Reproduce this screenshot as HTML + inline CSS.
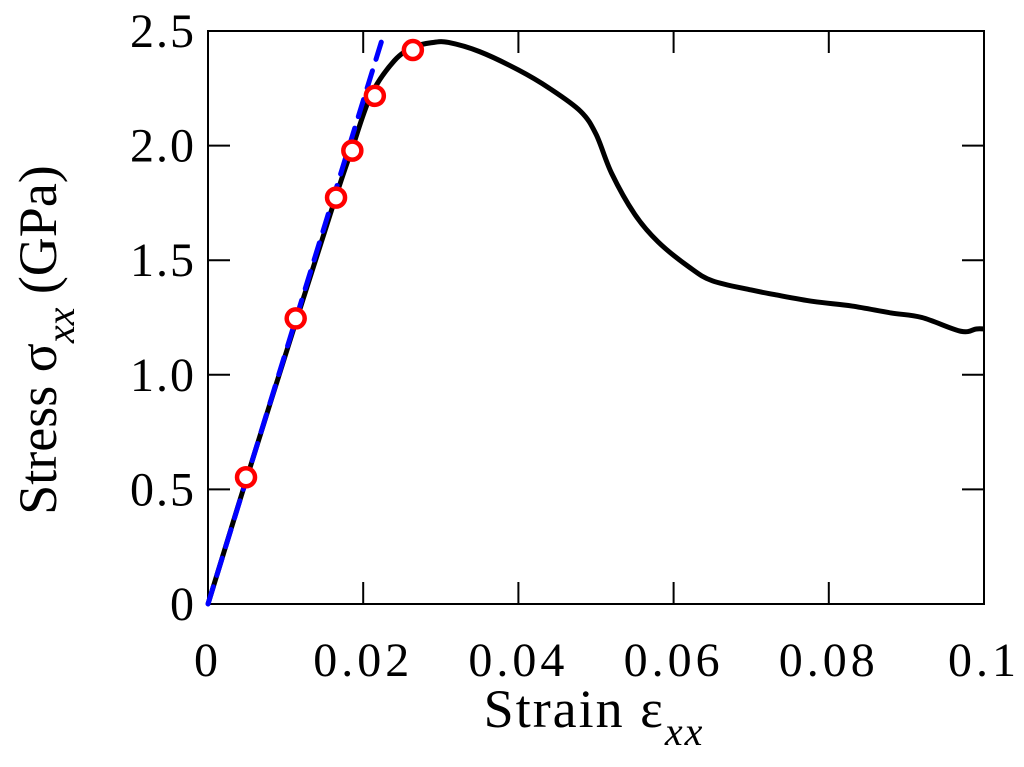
<!DOCTYPE html>
<html><head><meta charset="utf-8"><style>
body{margin:0;background:#fff}
svg text{font-family:"Liberation Serif",serif;fill:#000}
</style></head><body>
<svg width="1024" height="762">
<g id="axes"></g>
<g id="marks"></g>
<text x="594" y="727" font-size="54" text-anchor="middle" letter-spacing="2">Strain ε<tspan font-style="italic" font-size="40" dy="18">xx</tspan></text>
<text transform="translate(56,340) rotate(-90)" font-size="54" text-anchor="middle">Stress σ<tspan font-style="italic" font-size="40" dy="18">xx</tspan><tspan dy="-18"> (GPa)</tspan></text>
</svg>
<script>
const xTicks=[0,0.02,0.04,0.06,0.08,0.1];
const xTickLabels=["0","0.02","0.04","0.06","0.08","0.1"];
const yTicks=[0,0.5,1.0,1.5,2.0,2.5];
const yTickLabels=["0","0.5","1.0","1.5","2.0","2.5"];
const strain=[0,0.005,0.0115,0.0165,0.0185,0.021,0.024,0.0265,0.029,0.031,0.035,0.04,0.044,0.048,0.05,0.052,0.055,0.058,0.062,0.065,0.07,0.073,0.078,0.083,0.088,0.092,0.097,0.099,0.1];
const stress=[0,0.55,1.25,1.78,1.98,2.22,2.37,2.43,2.45,2.45,2.41,2.33,2.25,2.15,2.05,1.88,1.70,1.58,1.47,1.41,1.37,1.35,1.32,1.30,1.27,1.25,1.19,1.20,1.20];
const markStrain=[0.0049,0.0113,0.0165,0.0186,0.0215,0.0264];
const markStress=[0.553,1.246,1.773,1.978,2.217,2.417];
const fitStrain=[0,0.0225];
const fitStress=[0,2.47];
const L=208,R=984,T=31,B=604;
const X=v=>L+(v-0)/0.1*(R-L);
const Y=v=>B-v/2.5*(B-T);
const NS="http://www.w3.org/2000/svg";
function mk(tag,attrs,parent){const e=document.createElementNS(NS,tag);for(const k in attrs)e.setAttribute(k,attrs[k]);parent.appendChild(e);return e;}
const ax=document.getElementById('axes'),mg=document.getElementById('marks');
const frame=mk('rect',{x:L,y:T,width:R-L,height:B-T,fill:'none',stroke:'#000','stroke-width':2},ax);


xTicks.forEach((t,i)=>{const x=X(t);
 mk('line',{x1:x,x2:x,y1:B,y2:B-22,stroke:'#000','stroke-width':2},ax);
 mk('line',{x1:x,x2:x,y1:T,y2:T+22,stroke:'#000','stroke-width':2},ax);
 const tx=mk('text',{x:x,y:B+72,'font-size':48,'text-anchor':'middle','letter-spacing':'4'},ax);
 tx.textContent=xTickLabels[i];
 
 });
yTicks.forEach((t,i)=>{const y=Y(t);
 mk('line',{x1:L,x2:L+22,y1:y,y2:y,stroke:'#000','stroke-width':2},ax);
 mk('line',{x1:R,x2:R-22,y1:y,y2:y,stroke:'#000','stroke-width':2},ax);
 const tx=mk('text',{x:L-12,y:y+16,'font-size':48,'text-anchor':'end','letter-spacing':'2'},ax);
 tx.textContent=yTickLabels[i];
 
 });
const P=strain.map((s,i)=>[X(s),Y(stress[i])]);
let d='M'+P[0][0]+','+P[0][1];
for(let i=0;i<P.length-1;i++){const p0=P[Math.max(0,i-1)],p1=P[i],p2=P[i+1],p3=P[Math.min(P.length-1,i+2)];
 d+=' C'+(p1[0]+(p2[0]-p0[0])/6)+','+(p1[1]+(p2[1]-p0[1])/6)+' '+(p2[0]-(p3[0]-p1[0])/6)+','+(p2[1]-(p3[1]-p1[1])/6)+' '+p2[0]+','+p2[1];}
const curve=mk('path',{d:d,fill:'none',stroke:'#000','stroke-width':5,'stroke-linejoin':'round'},mg);


const fit=mk('line',{x1:X(fitStrain[0]),y1:Y(fitStress[0]),x2:X(fitStrain[1]),y2:Y(fitStress[1]),stroke:'#0000ff','stroke-width':5,'stroke-dasharray':'18,12','stroke-linecap':'round'},mg);


markStrain.forEach((s,i)=>{const c=mk('circle',{cx:X(s),cy:Y(markStress[i]),r:9,fill:'#fff',stroke:'#ff0000','stroke-width':4.5},mg);
 
 });
</script>
</body></html>
